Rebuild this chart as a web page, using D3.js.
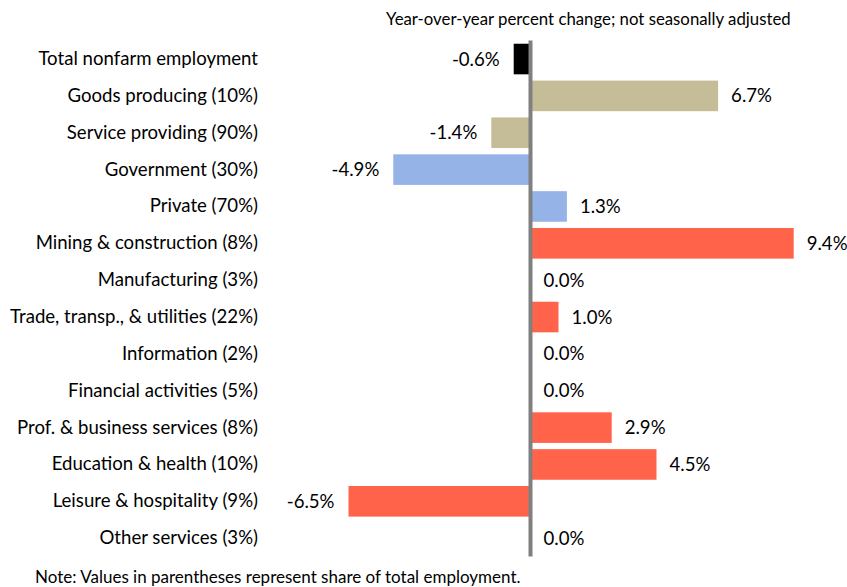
<!DOCTYPE html>
<html>
<head>
<meta charset="utf-8">
<script src="https://cdn.jsdelivr.net/npm/d3@7"></script>
<style>
  html, body { margin: 0; padding: 0; background: #fff; }
  svg { display: block; }
  text { font-family: Lato, "Open Sans", sans-serif; fill: #000; }
</style>
</head>
<body>
<svg id="chart" width="847" height="587"></svg>
<script>
// Employment sectors and their year-over-year change (%)
const categories = [
  "Total nonfarm employment",
  "Goods producing (10%)",
  "Service providing (90%)",
  "Government (30%)",
  "Private (70%)",
  "Mining & construction (8%)",
  "Manufacturing (3%)",
  "Trade, transp., & utilities (22%)",
  "Information (2%)",
  "Financial activities (5%)",
  "Prof. & business services (8%)",
  "Education & health (10%)",
  "Leisure & hospitality (9%)",
  "Other services (3%)"
];
const values = [-0.6, 6.7, -1.4, -4.9, 1.3, 9.4, 0.0, 1.0, 0.0, 0.0, 2.9, 4.5, -6.5, 0.0];
// group of each row: total, goods/service split, government/private split, supersector
const groups = ["total", "split", "split", "sector", "sector", "industry", "industry",
  "industry", "industry", "industry", "industry", "industry", "industry", "industry"];

const subtitle = "Year-over-year percent change; not seasonally adjusted";
const note = "Note: Values in parentheses represent share of total employment.";

const colors = {
  total: "#000000",
  split: "#C4BD97",
  sector: "#95B3E6",
  industry: "#FF644A"
};

const rows = categories.map((c, i) => ({ name: c, value: values[i], group: groups[i] }));

const svg = d3.select("#chart");

const x = d3.scaleLinear().domain([-8, 10]).range([306.5, 810.5]);
const y = d3.scaleBand().domain(categories).range([40.6, 556.6]).paddingInner(0.17).paddingOuter(0.085);
const x0 = x(0);

// plain hyphen for negatives
const fmt = v => d3.format(".1f")(v).replace("\u2212", "-") + "%";

// subtitle
svg.append("text")
  .attr("x", 386).attr("y", 25)
  .style("font-size", "16.8px")
  .text(subtitle);

// bars
svg.append("g").selectAll("rect")
  .data(rows)
  .join("rect")
  .attr("x", d => Math.min(x(d.value), x0))
  .attr("y", d => y(d.name))
  .attr("width", d => Math.abs(x(d.value) - x0))
  .attr("height", y.bandwidth())
  .attr("fill", d => colors[d.group]);

// zero line
svg.append("line")
  .attr("x1", x0).attr("x2", x0)
  .attr("y1", y.range()[0]).attr("y2", y.range()[1])
  .attr("stroke", "#808080")
  .attr("stroke-width", 4);

// category labels
const yAxis = d3.axisLeft(y).tickSize(0).tickPadding(0);
const gAxis = svg.append("g").attr("transform", "translate(258,0)").call(yAxis);
gAxis.select(".domain").remove();
gAxis.attr("font-family", null).attr("font-size", null);
gAxis.selectAll("text").style("font-size", "18.6px");

// value labels
svg.append("g").selectAll("text")
  .data(rows)
  .join("text")
  .attr("x", d => d.value < 0 ? x(d.value) - 14 : x(d.value) + 13)
  .attr("y", d => y(d.name) + y.bandwidth() / 2)
  .attr("dy", "0.35em")
  .attr("text-anchor", d => d.value < 0 ? "end" : "start")
  .style("font-size", "18.6px")
  .text(d => fmt(d.value));

// footnote
svg.append("text")
  .attr("x", 35).attr("y", 583)
  .style("font-size", "17px")
  .text(note);
</script>
</body>
</html>
